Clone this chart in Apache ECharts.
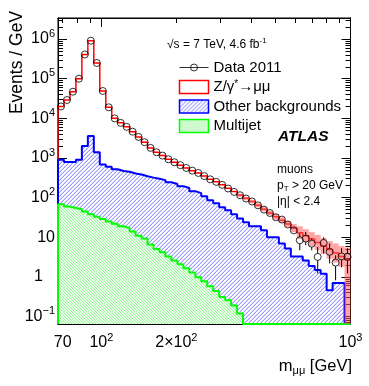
<!DOCTYPE html>
<html>
<head>
<meta charset="utf-8">
<script src="https://cdn.jsdelivr.net/npm/echarts@6/dist/echarts.min.js"></script>
<style>
  html, body { margin: 0; padding: 0; background: #fff; }
  #chart { width: 369px; height: 386px; }
</style>
</head>
<body>
<div id="chart"></div>
<script>
// mass bins (GeV), log spaced as in the figure
const binEdges = [67, 70.8, 74.81, 79.06, 83.54, 88.28, 93.29, 98.58, 104.2, 110.1,
  116.3, 122.9, 129.9, 137.3, 145.0, 153.3, 162.0, 171.2, 180.9, 191.1,
  202.0, 213.4, 225.5, 238.3, 251.8, 266.1, 281.2, 297.2, 314.0, 331.8,
  350.6, 370.5, 391.5, 413.8, 437.2, 462.0, 488.2, 515.9, 545.2, 576.1,
  608.8, 643.3, 679.8, 718.4, 759.1, 802.2, 847.7, 895.8, 946.6, 1000];

// Events / GeV
const dataValues = [2.0e4, 2.9e4, 4.7e4, 1.0e5, 4.1e5, 9.1e5, 2.5e5, 4.9e4, 1.9e4, 1.0e4,
  7.7e3, 6.1e3, 4.6e3, 3.4e3, 2.5e3, 1.8e3, 1.4e3, 1.15e3, 930, 780,
  660, 560, 480, 420, 350, 290, 250, 210, 170, 140,
  115, 95, 80, 64, 50, 41, 32, 28, 21, 15,
  8.4, 9.3, 6.9, 3.2, 7.2, 4.3, 2.3, 3.3, 3.2];

const dataErrLow = Array(40).fill(null).concat([4.7, 6.3, 4.7, 1.23, 3.9, 2.2, 0.82, 1.75, 1.23]);
const dataErrHigh = Array(40).fill(null).concat([12.6, 13.6, 9.4, 5.7, 10, 7.0, 3.5, 5.3, 5.3]);

// stacked prediction: Z/gamma* + other + multijet
const totalPrediction = [2.0e4, 2.9e4, 4.7e4, 1.0e5, 4.1e5, 9.1e5, 2.5e5, 4.9e4, 1.9e4, 1.0e4,
  7.7e3, 6.1e3, 4.6e3, 3.4e3, 2.5e3, 1.8e3, 1.4e3, 1.15e3, 930, 780,
  660, 560, 480, 420, 350, 290, 250, 210, 172, 142,
  117, 96, 80, 64, 51, 41, 33, 27, 21.5, 17,
  13, 11, 9, 7.4, 6, 4.9, 4.0, 3.3, 2.7];

// other backgrounds stacked on multijet
const otherBkgStack = [910, 790, 790, 910, 2000, 3600, 1400, 690, 600, 520,
  470, 450, 405, 385, 345, 320, 300, 277, 245, 220,
  195, 175, 146, 130, 109, 86, 72, 57, 48, 38,
  30, 24, 19, 19, 15, 10, 10, 7.0, 5.2, 3.3,
  3.3, 2.6, 1.9, 1.5, 1.2, 0.46, 0.70, 0.70, 0];

const multijet = [68, 60, 55, 51, 45, 38, 33, 29, 25, 22,
  19, 17, 14, 11, 9.3, 6.6, 5.1, 4.2, 3.3, 2.6,
  2.1, 1.65, 1.3, 0.98, 0.78, 0.58, 0.44, 0.31, 0.26, 0.19,
  0.12, 0, 0, 0, 0, 0, 0, 0, 0, 0,
  0, 0, 0, 0, 0, 0, 0, 0, 0];

// systematic band on the total prediction
const bandLow = Array(30).fill(null).concat([105, 86, 72, 57, 45, 36, 28, 23, 18, 13.5,
  9, 7.5, 6, 4.8, 3.8, 2.9, 2.3, 1.8, 0]);
const bandHigh = Array(30).fill(null).concat([126, 105, 89, 72, 58, 47, 39, 32, 26, 21.5,
  19, 16, 13.5, 11.5, 9.5, 8, 7, 6, 5.5]);

const xLabelValues = [70, 100, 200, 1000];
const xMajorTicks = [100, 1000];
const xMinorTicks = [70, 80, 90, 200, 300, 400, 500, 600, 700, 800, 900];
const yMajorTicks = [0.1, 1, 10, 100, 1e3, 1e4, 1e5, 1e6];
const yMinorTicks = [];
[0.01, 0.1, 1, 10, 100, 1e3, 1e4, 1e5, 1e6].forEach(d => {
  [2, 3, 4, 5, 6, 7, 8, 9].forEach(m => yMinorTicks.push(d * m));
});

const X_MIN = 67, X_MAX = 1000, Y_MIN = 0.065, Y_MAX = 3.4e6;
const FONT = '"Liberation Sans", Arial, Helvetica, sans-serif';

// diagonal hatch tile on white; shades[k] is the colour of the k-th pixel of each stripe
function hatch(shades, dir, s) {
  const c = document.createElement('canvas');
  c.width = s; c.height = s;
  const g = c.getContext('2d');
  const img = g.createImageData(s, s);
  for (let y = 0; y < s; y++) {
    for (let x = 0; x < s; x++) {
      const phase = dir > 0 ? (x + y) % s : (x - y + s) % s;
      const col = shades[phase] || [255, 255, 255];
      const k = (y * s + x) * 4;
      img.data[k] = col[0];
      img.data[k + 1] = col[1];
      img.data[k + 2] = col[2];
      img.data[k + 3] = 255;
    }
  }
  g.putImageData(img, 0, 0);
  return { image: c, repeat: 'repeat' };
}

const blueHatch = hatch([null, null, [215, 215, 255], [155, 155, 255]], 1, 4);
const greenHatch = hatch([[150, 245, 150], [215, 252, 215]], -1, 3);

function stepData(vals) {
  const pts = [[binEdges[0], Y_MIN]];
  vals.forEach((v, i) => pts.push([binEdges[i], v > 0 ? v : Y_MIN]));
  const last = vals[vals.length - 1];
  pts.push([binEdges[binEdges.length - 1], last > 0 ? last : Y_MIN]);
  return pts;
}

const centers = dataValues.map((v, i) => Math.sqrt(binEdges[i] * binEdges[i + 1]));

const supRich = {
  b: { fontSize: 16, lineHeight: 22, fontFamily: FONT, color: '#000' },
  s: { fontSize: 11, lineHeight: 11, verticalAlign: 'top', fontFamily: FONT, color: '#000' },
  one: { fontSize: 16, lineHeight: 22, fontFamily: FONT, color: '#000', padding: [0, 12, 0, 0] }
};

function xAxisDef(pos, ticks, len, withLabels) {
  return {
    type: 'log', logBase: 10, min: X_MIN, max: X_MAX, position: pos,
    axisLine: { show: true, onZero: false, lineStyle: { color: '#000', width: 1 } },
    axisTick: { show: true, inside: true, length: len, customValues: ticks, lineStyle: { color: '#000', width: 1 } },
    axisLabel: withLabels ? {
      show: true, margin: 8, customValues: xLabelValues, rich: supRich,
      formatter: v => {
        const r = Math.round(v);
        if (r === 70) return '{b|70}';
        if (r === 100) return '{b|10}{s|2}';
        if (r === 200) return '{b|2×10}{s|2}';
        if (r === 1000) return '{b|10}{s|3}';
        return '';
      }
    } : { show: false },
    splitLine: { show: false }
  };
}

function yAxisDef(pos, ticks, len, withLabels) {
  return {
    type: 'log', logBase: 10, min: Y_MIN, max: Y_MAX, position: pos,
    axisLine: { show: true, onZero: false, lineStyle: { color: '#000', width: 1 } },
    axisTick: { show: true, inside: true, length: len, customValues: ticks, lineStyle: { color: '#000', width: 1 } },
    axisLabel: withLabels ? {
      show: true, margin: 3, customValues: yMajorTicks, rich: supRich,
      formatter: v => {
        const n = Math.round(Math.log10(v));
        if (n === 0) return '{one|1}';
        if (n === 1) return '{b|10}';
        return '{b|10}{s|' + (n < 0 ? '−' + (-n) : n) + '}';
      }
    } : { show: false },
    splitLine: { show: false }
  };
}

const chart = echarts.init(document.getElementById('chart'));

const option = {
  animation: false,
  backgroundColor: '#fff',
  grid: { left: 58, right: 18.5, top: 18, bottom: 62, show: true, borderColor: '#000', borderWidth: 1 },
  xAxis: [
    xAxisDef('bottom', xMajorTicks, 9, true),
    xAxisDef('bottom', xMinorTicks, 5, false),
    xAxisDef('top', xMajorTicks, 9, false),
    xAxisDef('top', xMinorTicks, 5, false)
  ],
  yAxis: [
    yAxisDef('left', yMajorTicks, 9, true),
    yAxisDef('left', yMinorTicks, 5, false),
    yAxisDef('right', yMajorTicks, 9, false),
    yAxisDef('right', yMinorTicks, 5, false)
  ],
  legend: {
    orient: 'vertical', left: 172, top: 55,
    itemWidth: 29, itemHeight: 13, itemGap: 4.5,
    selectedMode: false,
    textStyle: {
      fontSize: 15, fontFamily: FONT, color: '#000',
      rich: {
        n: { fontSize: 15, fontFamily: FONT, color: '#000' },
        s: { fontSize: 10, fontFamily: FONT, color: '#000', verticalAlign: 'top', lineHeight: 10 }
      }
    },
    formatter: name => name === 'Z/γ*→μμ' ? '{n|Z/γ}{s|*}{n|→μμ}' : name,
    data: [
      { name: 'Data 2011', icon: 'path://M0,3.5H29M11,3.5a3.5,3.5 0 1,0 7,0a3.5,3.5 0 1,0 -7,0',
        itemStyle: { color: 'none', borderColor: '#000', borderWidth: 1 } },
      { name: 'Z/γ*→μμ', icon: 'rect', itemStyle: { color: '#fff', borderColor: '#ff0000', borderWidth: 1.5 } },
      { name: 'Other backgrounds', icon: 'rect', itemStyle: { color: blueHatch, borderColor: '#0000ff', borderWidth: 1.5 } },
      { name: 'Multijet', icon: 'rect', itemStyle: { color: greenHatch, borderColor: '#00ff00', borderWidth: 1.5 } }
    ]
  },
  graphic: [
    { type: 'text', x: 17.5, y: 62.5, rotation: Math.PI / 2,
      style: { text: 'Events / GeV', fontSize: 17.5, fontFamily: FONT, fill: '#000', align: 'center', verticalAlign: 'middle' } },
    { type: 'text', x: 352, y: 366,
      style: { text: '{n|m}{s|μμ}{n| [GeV]}', align: 'right', verticalAlign: 'middle',
        rich: {
          n: { fontSize: 16.5, fontFamily: FONT, fill: '#000', lineHeight: 20 },
          s: { fontSize: 11, fontFamily: FONT, fill: '#000', verticalAlign: 'bottom', lineHeight: 14 }
        } } },
    { type: 'text', x: 167, y: 45,
      style: { text: '{n|√s = 7 TeV, 4.6 fb}{s|-1}', verticalAlign: 'middle',
        rich: {
          n: { fontSize: 12, fontFamily: FONT, fill: '#000', lineHeight: 16 },
          s: { fontSize: 8, fontFamily: FONT, fill: '#000', verticalAlign: 'top', lineHeight: 8 }
        } } },
    { type: 'text', x: 278, y: 137,
      style: { text: 'ATLAS', fontSize: 15.5, fontWeight: 'bold', fontStyle: 'italic', fontFamily: FONT, fill: '#000', verticalAlign: 'middle' } },
    { type: 'text', x: 277, y: 170,
      style: { text: 'muons', fontSize: 12, fontFamily: FONT, fill: '#000', verticalAlign: 'middle' } },
    { type: 'text', x: 277, y: 186,
      style: { text: '{n|p}{s|T}{n| > 20 GeV}', verticalAlign: 'middle',
        rich: {
          n: { fontSize: 12, fontFamily: FONT, fill: '#000', lineHeight: 14 },
          s: { fontSize: 8, fontFamily: FONT, fill: '#000', verticalAlign: 'bottom', lineHeight: 10 }
        } } },
    { type: 'text', x: 277, y: 201.5,
      style: { text: '|η| < 2.4', fontSize: 12, fontFamily: FONT, fill: '#000', verticalAlign: 'middle' } }
  ],
  series: [
    {
      name: 'Z/γ*→μμ', type: 'line', step: 'end', symbol: 'none', silent: true, z: 1,
      data: stepData(totalPrediction),
      lineStyle: { color: '#ff0000', width: 1.5 }, itemStyle: { color: '#ff0000' }
    },
    {
      name: 'Other backgrounds', type: 'line', step: 'end', symbol: 'none', silent: true, z: 2,
      data: stepData(otherBkgStack),
      lineStyle: { color: '#0000ff', width: 2 }, itemStyle: { color: '#0000ff' },
      areaStyle: { color: blueHatch, opacity: 1, origin: 'start' }
    },
    {
      name: 'Multijet', type: 'line', step: 'end', symbol: 'none', silent: true, z: 3,
      data: stepData(multijet),
      lineStyle: { color: '#00ff00', width: 2 }, itemStyle: { color: '#00ff00' },
      areaStyle: { color: greenHatch, opacity: 1, origin: 'start' }
    },
    {
      name: 'band', type: 'custom', silent: true, z: 4, clip: true,
      data: bandLow.map((lo, i) => lo === null ? null : [binEdges[i], binEdges[i + 1], lo > 0 ? lo : Y_MIN, bandHigh[i]]).filter(d => d),
      encode: { x: [0, 1], y: [2, 3] },
      renderItem: (params, api) => {
        const p1 = api.coord([api.value(0), api.value(3)]);
        const p2 = api.coord([api.value(1), api.value(2)]);
        return { type: 'rect', shape: { x: p1[0], y: p1[1], width: p2[0] - p1[0], height: p2[1] - p1[1] },
          style: { fill: 'rgba(255,90,90,0.55)' } };
      }
    },
    {
      name: 'errors', type: 'custom', silent: true, z: 6, clip: true,
      data: dataErrLow.map((lo, i) => lo === null ? null : [centers[i], dataValues[i], lo, dataErrHigh[i]]).filter(d => d),
      encode: { x: 0, y: [1, 2, 3] },
      renderItem: (params, api) => {
        const x = api.value(0);
        const mid = api.coord([x, api.value(1)]);
        const lo = api.coord([x, api.value(2)]);
        const hi = api.coord([x, api.value(3)]);
        const r = 3.5;
        const st = { stroke: '#000', lineWidth: 1 };
        return { type: 'group', children: [
          { type: 'line', shape: { x1: mid[0], y1: hi[1], x2: mid[0], y2: mid[1] - r }, style: st },
          { type: 'line', shape: { x1: mid[0], y1: mid[1] + r, x2: mid[0], y2: lo[1] }, style: st }
        ] };
      }
    },
    {
      name: 'Data 2011', type: 'scatter', silent: true, z: 7,
      data: dataValues.map((v, i) => [centers[i], v]),
      symbol: 'circle', symbolSize: 7,
      itemStyle: { color: 'rgba(0,0,0,0)', borderColor: '#000', borderWidth: 1 }
    }
  ]
};

chart.setOption(option);
</script>
</body>
</html>
